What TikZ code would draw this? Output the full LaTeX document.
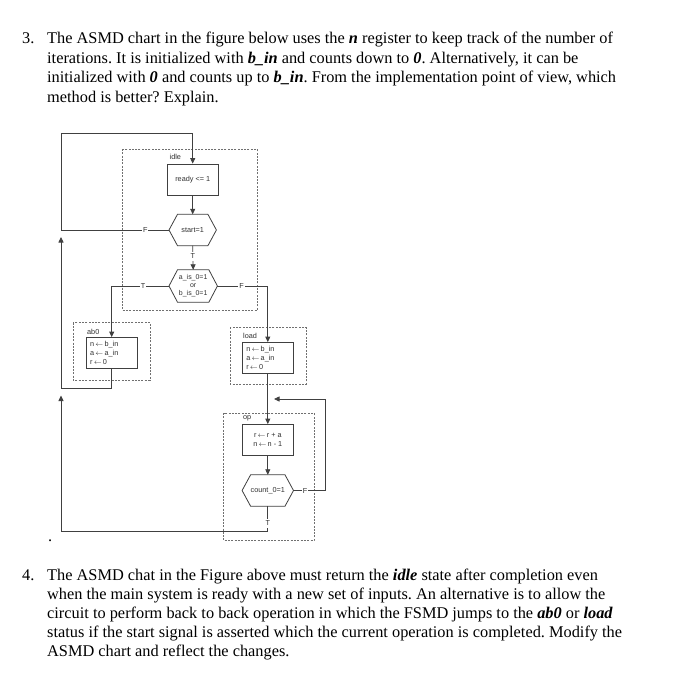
\documentclass[tikz,border=0pt]{standalone}
\usepackage{fontspec}
\setmainfont{Liberation Serif}
\newfontfamily\diagfont{Liberation Sans}
\usetikzlibrary{arrows.meta}
\newcommand\bi[1]{\textbf{\textit{#1}}}
\newcommand\asg{\,$\leftarrow$\,}
\definecolor{dline}{HTML}{404040}
\definecolor{dashc}{HTML}{707070}
\definecolor{dtext}{HTML}{303030}
\frenchspacing
\begin{document}
\begin{tikzpicture}[x=1bp,y=-1bp,
  txt/.style={font=\fontsize{16.4}{19.5}\selectfont, anchor=base west, inner sep=0},
  dfont/.style={font=\diagfont\fontsize{7.3}{8.8}\selectfont, text=dtext},
  statebox/.style={dfont, draw=dline, line width=0.8bp, minimum width=51bp, minimum height=31bp, inner sep=0},
  leftbox/.style={statebox, text width=43bp, align=left},
  hexnode/.style={dfont, minimum height=31bp, inner sep=0, align=center},
  wire/.style={draw=dline, line width=0.8bp},
  arr/.style={wire, -{Triangle[length=5.5bp,width=5bp]}},
  dbox/.style={draw=dashc, line width=0.6bp, dash pattern=on 2bp off 1.3bp},
  lab/.style={dfont, fill=white, inner xsep=1bp, inner ysep=2.2bp},
  slabel/.style={dfont, anchor=west, inner sep=0}]
\useasboundingbox[fill=white] (0,0) rectangle (683,700);

% ---------- question 3 text ----------
\node[txt] (q3n) at (22,44) {3.};
\node[txt] (q3a) at (47,44) {The ASMD chart in the figure below uses the \bi{n} register to keep track of the number of};
\node[txt] (q3b) at (47,63.5) {iterations. It is initialized with \bi{b\_in} and counts down to \bi{0}. Alternatively, it can be};
\node[txt] (q3c) at (47,83) {initialized with \bi{0} and counts up to \bi{b\_in}. From the implementation point of view, which};
\node[txt] (q3d) at (47,102.5) {method is better? Explain.};

% ---------- question 4 text ----------
\node[txt] (dot) at (48,541) {.};
\node[txt] (q4n) at (22,580) {4.};
\node[txt] (q4a) at (47,580) {The ASMD chat in the Figure above must return the \bi{idle} state after completion even};
\node[txt] (q4b) at (47,599) {when the main system is ready with a new set of inputs. An alternative is to allow the};
\node[txt] (q4c) at (47,618) {circuit to perform back to back operation in which the FSMD jumps to the \bi{ab0} or \bi{load}};
\node[txt] (q4d) at (47,637) {status if the start signal is asserted which the current operation is completed. Modify the};
\node[txt] (q4e) at (47,656) {ASMD chart and reflect the changes.};

% ---------- dashed state boxes ----------
\draw[dbox] (122.7,149) rectangle (257,310.7);
\draw[dbox] (73.3,322.7) rectangle (150,380);
\draw[dbox] (230,327.3) rectangle (306,384);
\draw[dbox] (223.5,413) rectangle (314,540.5);

\node[slabel] (lidle) at (169.5,157) {idle};
\node[slabel] (lab0) at (87,332) {ab0};
\node[slabel] (lload) at (243,336) {load};
\node[slabel] (lop) at (243,418) {op};

% ---------- blocks ----------
\node[statebox] (ready) at (192.7,179.5) {ready <= 1};
\node[hexnode, minimum width=47bp] (start) at (192.7,230) {start=1};
\node[hexnode, minimum width=48bp, minimum height=32bp, font=\diagfont\fontsize{7}{8}\selectfont] (zero) at (193.2,286) {a\_is\_0=1\\or\\b\_is\_0=1};
\node[leftbox] (ab0) at (111.7,353) {n\asg b\_in\\a\asg a\_in\\r\asg 0};
\node[leftbox] (load) at (267.8,358) {n\asg b\_in\\a\asg a\_in\\r\asg 0};
\node[statebox, align=center] (op) at (267.8,440) {r\asg r + a\\n\asg n - 1};
\node[hexnode, minimum width=51bp] (cnt) at (267.8,490.5) {count\_0=1};

\foreach \h in {start,zero,cnt}
  \draw[wire] (\h.west) -- ([xshift=8.5bp]\h.north west) -- ([xshift=-8.5bp]\h.north east)
    -- (\h.east) -- ([xshift=-8.5bp]\h.south east) -- ([xshift=8.5bp]\h.south west) -- cycle;

% ---------- bend points ----------
\coordinate (lpA) at (61,230);
\coordinate (lpB) at (61,133.5);
\coordinate (lpC) at (192.7,133.5);
\coordinate (zl) at (111.7,286);
\coordinate (zr) at (267.8,286);
\coordinate (abA) at (111.7,388.5);
\coordinate (abB) at (61,388.5);
\coordinate (abTip) at (61,237);
\coordinate (cr) at (325,490.5);
\coordinate (crB) at (325,399);
\coordinate (crTip) at (274,399);
\coordinate (ctA) at (267.8,531.5);
\coordinate (ctB) at (61,531.5);
\coordinate (ctTip) at (61,395.5);

% ---------- connectors ----------
\draw[arr] (start.west) -- node[lab, pos=0.22]{F} (lpA) -- (lpB) -- (lpC) -- (ready.north);
\draw[arr] (ready.south) -- (start.north);
\draw[arr] (start.south) -- node[lab, pos=0.44]{T} (zero.north);
\draw[arr] (zero.west) -- node[lab, pos=0.45]{T} (zl) -- (ab0.north);
\draw[arr] (zero.east) -- node[lab, pos=0.48]{F} (zr) -- (load.north);
\draw[arr] (ab0.south) -- (abA) -- (abB) -- (abTip);
\draw[arr] (load.south) -- (op.north);
\draw[arr] (op.south) -- (cnt.north);
\draw[arr] (cnt.east) -- node[lab, pos=0.37]{F} (cr) -- (crB) -- (crTip);
\draw[arr] (cnt.south) -- node[lab, pos=0.68]{T} (ctA) -- (ctB) -- (ctTip);
\end{tikzpicture}
\end{document}
